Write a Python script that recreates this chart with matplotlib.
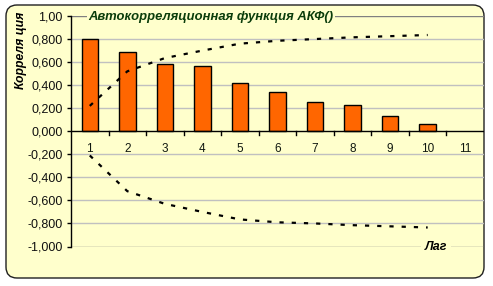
import matplotlib
matplotlib.use("Agg")
import matplotlib.pyplot as plt
from matplotlib.patches import FancyBboxPatch
import numpy as np

lags = [1, 2, 3, 4, 5, 6, 7, 8, 9, 10]
acf = [0.80, 0.687, 0.582, 0.565, 0.417, 0.338, 0.251, 0.224, 0.128, 0.067]
upper = [0.22, 0.52, 0.635, 0.70, 0.76, 0.785, 0.80, 0.815, 0.825, 0.835]
lower = [-0.21, -0.52, -0.63, -0.70, -0.765, -0.79, -0.80, -0.815, -0.825, -0.835]
categories = ["1", "2", "3", "4", "5", "6", "7", "8", "9", "10", "11"]
yticks = [-1.0, -0.8, -0.6, -0.4, -0.2, 0.0, 0.2, 0.4, 0.6, 0.8, 1.0]
ytick_labels = ["-1,000", "-0,800", "-0,600", "-0,400", "-0,200", "0,000",
                "0,200", "0,400", "0,600", "0,800", "1,00"]
title = "Автокорреляционная функция АКФ()"
ylabel = "Корреля ция"
xlabel = "Лаг"

W, H = 493, 286
plt.rcParams['font.family'] = ['Liberation Sans', 'DejaVu Sans']
fig = plt.figure(figsize=(W / 100, H / 100), dpi=100)
fig.patch.set_facecolor("white")

YEL = "#FFFFCC"
TXT = "#0B3D0B"

# background with rounded border
bg = fig.add_axes([0, 0, 1, 1])
bg.set_xlim(0, W)
bg.set_ylim(H, 0)
bg.axis("off")
bg.add_patch(FancyBboxPatch((6, 5), 478, 273,
                            boxstyle="round,pad=0,rounding_size=11",
                            facecolor=YEL, edgecolor="#202020", lw=1.0))

L, R, T, B = 71, 484, 16, 246.5
ax = fig.add_axes([L / W, 1 - B / H, (R - L) / W, (B - T) / H])
ax.set_facecolor("none")
ax.set_xlim(0.5, 11.5)
ax.set_ylim(-1.0, 1.0)

for v in yticks:
    if abs(v) > 0.99:
        ax.axhline(v, color="#808080", lw=1.0, zorder=1)
    elif abs(v) > 1e-9:
        ax.axhline(v, color="#C0C0C0", lw=1.0, zorder=1)

ax.bar(lags, acf, width=0.44, color="#FF6600", edgecolor="black", lw=1.0, zorder=3)

for series in (upper, lower):
    ln, = ax.plot(lags, series, color="black", lw=1.6, zorder=4)
    ln.set_dashes((1.9, 3.6))
    ln.set_dash_capstyle("butt")

for s in ("top", "right", "bottom"):
    ax.spines[s].set_visible(False)
ax.spines["left"].set_color("black")
ax.spines["left"].set_linewidth(1.0)
ax.axhline(0, color="black", lw=1.0, zorder=5)

ax.set_yticks(yticks)
ax.set_yticklabels(ytick_labels, fontsize=9, color="#101010")
ax.tick_params(axis="y", direction="out", length=3, width=1, pad=3)
ax.set_xticks([])
# category boundary tick marks on zero line
for b in np.arange(1.5, 11.5, 1.0):
    ax.plot([b, b], [0, -0.03], color="black", lw=1.0, zorder=5, clip_on=False)
for i, c in enumerate(categories):
    ax.text(i + 1, -0.15, c, ha="center", va="center", fontsize=8.5, color="#101810")

fig.text(88 / W, 1 - 17 / H, title, ha="left", va="center", fontsize=9.4,
         fontweight="bold", fontstyle="italic", color=TXT,
         bbox=dict(facecolor=YEL, edgecolor="none", pad=1))
fig.text(21 / W, 1 - 50 / H, ylabel, ha="center", va="center", rotation=90,
         fontsize=8.8, fontweight="bold", fontstyle="italic", color="black")
fig.text(436 / W, 1 - 246.5 / H, xlabel, ha="center", va="center", fontsize=9,
         fontweight="bold", fontstyle="italic", color="black",
         bbox=dict(facecolor=YEL, edgecolor="none", pad=2.5))

fig.savefig("out.png", dpi=100, facecolor="white")
